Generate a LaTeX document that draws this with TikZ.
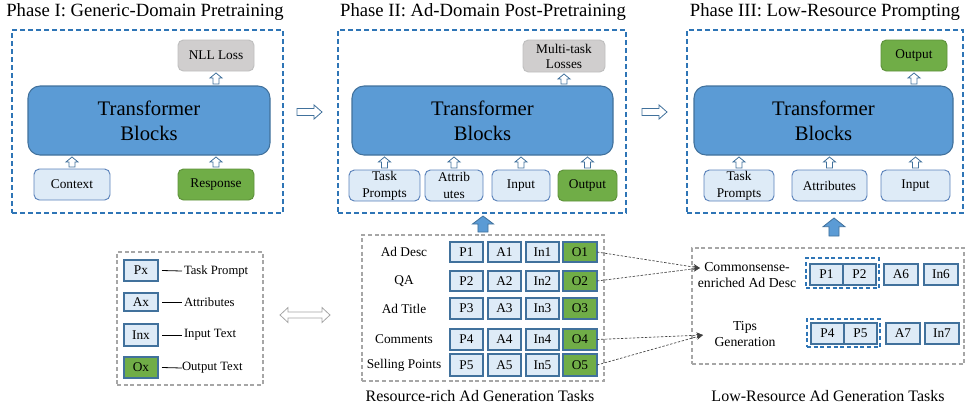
\documentclass[tikz,border=0pt]{standalone}
\usepackage{fontspec}
\setmainfont{Liberation Serif}
\usetikzlibrary{calc,arrows.meta}
\definecolor{lb}{HTML}{DEEBF7}
\definecolor{bd}{HTML}{41719C}
\definecolor{bdl}{HTML}{5B82BA}
\definecolor{tf}{HTML}{5B9BD5}
\definecolor{gr}{HTML}{70AD47}
\definecolor{grd}{HTML}{507E32}
\definecolor{gy}{HTML}{D0CECE}
\definecolor{gyd}{HTML}{BFBFBF}
\definecolor{pd}{HTML}{2E75B6}
\definecolor{dg}{HTML}{A6A6A6}
\tikzset{
 every node/.style={inner sep=0pt, outer sep=0pt, align=center},
 panel/.style={draw=pd, line width=0.8pt, dash pattern=on 3.5pt off 2.5pt},
 graybox/.style={draw=dg, line width=0.8pt, dash pattern=on 3pt off 2pt},
 grpbox/.style={draw=pd, line width=0.8pt, dash pattern=on 3pt off 2pt},
 tfbox/.style={draw=bd, fill=tf, line width=0.8pt, rounded corners=9pt, font=\fontsize{15.5}{18.8}\selectfont},
 rbox/.style={draw=bdl, fill=lb, line width=0.7pt, rounded corners=4pt, font=\fontsize{10}{12.5}\selectfont},
 gbox/.style={draw=grd!60!gr, fill=gr, line width=0.7pt, rounded corners=4pt, font=\fontsize{10}{12.5}\selectfont},
 lossbox/.style={draw=gyd, fill=gy, line width=0.7pt, rounded corners=4pt, font=\fontsize{10}{11.3}\selectfont},
 cell/.style={draw=bd, fill=lb, line width=0.9pt, font=\fontsize{10}{12}\selectfont},
 ocell/.style={cell, fill=gr},
 lbl/.style={font=\fontsize{10}{11.3}\selectfont},
 legtxt/.style={font=\fontsize{9.5}{11}\selectfont, anchor=west},
 title/.style={font=\fontsize{14}{16}\selectfont, anchor=base},
 caption/.style={font=\fontsize{12}{14}\selectfont},
 hol/.style={draw=bd, fill=white, line width=0.6pt},
 big/.style={draw=bd, fill=tf, line width=0.6pt},
 dbl/.style={draw=dg, fill=white, line width=0.6pt},
 conn/.style={draw=black!75, line width=0.5pt, dash pattern=on 1.8pt off 1.2pt, -{Stealth[length=5pt,width=4.5pt]}},
 legline/.style={draw=black, line width=0.6pt},
}
\newcommand\bx[7]{\node[#6, minimum width={(#4-#2)*0.75pt}, minimum height={(#5-#3)*0.75pt}] (#1) at ({(#2+#4)/2},{(#3+#5)/2}) {#7};}
\newcommand\blkup[6]{\draw[#1] let \p1=#2, \p2=#3 in (\x1-#4,\y1) -- (\x1-#4,\y2-#6) -- (\x1-#5,\y2-#6) -- (\x1,\y2) -- (\x1+#5,\y2-#6) -- (\x1+#4,\y2-#6) -- (\x1+#4,\y1) -- cycle;}
\newcommand\blkright[6]{\draw[#1] let \p1=#2, \p2=#3 in (\x1,\y1-#4) -- (\x2-#6,\y1-#4) -- (\x2-#6,\y1-#5) -- (\x2,\y1) -- (\x2-#6,\y1+#5) -- (\x2-#6,\y1+#4) -- (\x1,\y1+#4) -- cycle;}
\newcommand\blkdbl[6]{\draw[#1] let \p1=#2, \p2=#3 in (\x1,\y1) -- (\x1+#6,\y1+#5) -- (\x1+#6,\y1+#4) -- (\x2-#6,\y1+#4) -- (\x2-#6,\y1+#5) -- (\x2,\y1) -- (\x2-#6,\y1-#5) -- (\x2-#6,\y1-#4) -- (\x1+#6,\y1-#4) -- (\x1+#6,\y1-#5) -- cycle;}
\newcommand\smallup[2]{\blkup{hol}{($(#1.north)+(0pt,1.5pt)$)}{($(#1.north|-#2.south)+(0pt,-1.5pt)$)}{2.2pt}{4.6pt}{3.8pt}}
\newcommand\smallupto[2]{\blkup{hol}{($(#2.south|-#1.north)+(0pt,1.5pt)$)}{($(#2.south)+(0pt,-1.5pt)$)}{2.2pt}{4.6pt}{3.8pt}}
\begin{document}
\begin{tikzpicture}[x=0.75pt,y=-0.75pt]
\useasboundingbox (0,0) rectangle (966,412);
% ---------- Phase I
\node[title] (t1) at (145,16) {Phase I: Generic-Domain Pretraining};
\bx{ph1}{12}{30}{283}{213}{panel}{}
\bx{tb1}{28}{86}{270}{155}{tfbox}{Transformer\\Blocks}
\bx{nll}{178}{40}{254}{71}{lossbox}{NLL Loss}
\bx{ctx}{34}{169}{110}{200}{rbox}{Context}
\bx{resp}{178}{169}{254}{200}{gbox}{Response}
\smallup{ctx}{tb1}
\smallup{resp}{tb1}
\smallupto{tb1}{nll}
% ---------- Phase II
\node[title] (t2) at (483,16) {Phase II: Ad-Domain Post-Pretraining};
\bx{ph2}{338}{30}{626}{213}{panel}{}
\bx{tb2}{352}{86}{613}{155}{tfbox}{Transformer\\Blocks}
\bx{mtl}{523}{40}{605}{72}{lossbox}{Multi-task\\Losses}
\bx{tp2}{349}{170}{420}{201}{rbox}{Task\\Prompts}
\bx{at2}{425}{170}{483}{201}{rbox}{Attrib\\utes}
\bx{in2}{492}{170}{550}{201}{rbox}{Input}
\bx{out2}{558}{170}{617}{201}{gbox}{Output}
\smallup{tp2}{tb2}
\smallup{at2}{tb2}
\smallup{in2}{tb2}
\smallup{out2}{tb2}
\smallupto{tb2}{mtl}
% ---------- Phase III
\node[title] (t3) at (825,16) {Phase III: Low-Resource Prompting};
\bx{ph3}{687}{30}{963}{213}{panel}{}
\bx{tb3}{694}{86}{953}{155}{tfbox}{Transformer\\Blocks}
\bx{out3}{881}{40}{947}{71}{gbox}{Output}
\bx{tp3}{704}{170}{774}{201}{rbox}{Task\\Prompts}
\bx{at3}{792}{170}{867}{201}{rbox}{Attributes}
\bx{in3}{881}{170}{950}{201}{rbox}{Input}
\smallup{tp3}{tb3}
\smallup{at3}{tb3}
\smallup{in3}{tb3}
\smallupto{tb3}{out3}
% ---------- arrows between phases
\blkright{hol}{(297,112)}{(322,112)}{2.6pt}{5.3pt}{6pt}
\blkright{hol}{(642,112)}{(667,112)}{2.6pt}{5.3pt}{6pt}
\blkup{big}{(483,232)}{(483,216)}{3.8pt}{7.9pt}{6pt}
\blkup{big}{(834,236)}{(834,218)}{3.8pt}{8.2pt}{6.5pt}
% ---------- Legend
\bx{lg}{117}{252}{263}{385}{graybox}{}
\bx{px}{124}{260}{158}{281}{cell}{Px}
\bx{ax}{124}{293}{158}{311}{cell}{Ax}
\bx{inx}{124}{324}{158}{346}{cell}{Inx}
\bx{ox}{124}{357}{158}{378}{ocell}{Ox}
\node[legtxt] (lpx) at (184,271) {Task Prompt};
\node[legtxt] (lax) at (184,302) {Attributes};
\node[legtxt] (linx) at (184,335) {Input Text};
\node[legtxt] (lox) at (182,368) {Output Text};
\draw[legline] ($(px.east)+(3pt,0pt)$) -- ($(lpx.west)+(-1.5pt,0pt)$);
\draw[legline] ($(ax.east)+(3pt,0pt)$) -- ($(lax.west)+(-1.5pt,0pt)$);
\draw[legline] ($(inx.east)+(3pt,0pt)$) -- ($(linx.west)+(-1.5pt,0pt)$);
\draw[legline] ($(ox.east)+(3pt,0pt)$) -- (lox.west);
\blkdbl{dbl}{(280,315)}{(330,315)}{2.3pt}{5.6pt}{6pt}
% ---------- Resource-rich tasks
\bx{rr}{362}{235}{604}{381}{graybox}{}
\foreach \r/\ya/\yb/\lab in {1/242/262/Ad Desc, 2/271/291/QA, 3/298/319/Ad Title, 4/329/350/Comments, 5/354/376/Selling Points}{
  \bx{P\r}{450}{\ya}{483}{\yb}{cell}{P\r}
  \bx{A\r}{488}{\ya}{521}{\yb}{cell}{A\r}
  \bx{In\r}{526}{\ya}{559}{\yb}{cell}{In\r}
  \bx{O\r}{563}{\ya}{597}{\yb}{ocell}{O\r}
  \node[lbl] (R\r) at ({404},{(\ya+\yb)/2}) {\lab};
}
\node[caption] (c1) at (480,396) {Resource-rich Ad Generation Tasks};
% ---------- Low-resource tasks
\bx{lr}{692}{248}{964}{364}{graybox}{}
\bx{g1}{806}{258}{879}{288}{grpbox}{}
\bx{Q1}{810}{264}{843}{285}{cell}{P1}
\bx{Q2}{843}{264}{876}{285}{cell}{P2}
\bx{A6}{884}{264}{918}{285}{cell}{A6}
\bx{In6}{924}{264}{958}{285}{cell}{In6}
\bx{g2}{807}{319}{880}{347}{grpbox}{}
\bx{Q4}{811}{323}{844}{344}{cell}{P4}
\bx{Q5}{844}{323}{877}{344}{cell}{P5}
\bx{A7}{886}{323}{920}{344}{cell}{A7}
\bx{In7}{925}{323}{959}{344}{cell}{In7}
\node[lbl, font=\fontsize{10.3}{11.3}\selectfont] (cs) at (747,275) {Commonsense-\\enriched Ad Desc};
\node[lbl, font=\fontsize{10.3}{11.3}\selectfont] (tips) at (745,334) {Tips\\Generation};
\node[caption] (c2) at (828,396) {Low-Resource Ad Generation Tasks};
% ---------- connectors
\coordinate (tA) at (700,268);
\coordinate (tB) at (703,335);
\draw[conn] (O1.east) -- (tA);
\draw[conn] (O2.east) -- (tA);
\draw[conn] (O4.east) -- (tB);
\draw[conn] (O5.east) -- (tB);
\end{tikzpicture}
\end{document}
